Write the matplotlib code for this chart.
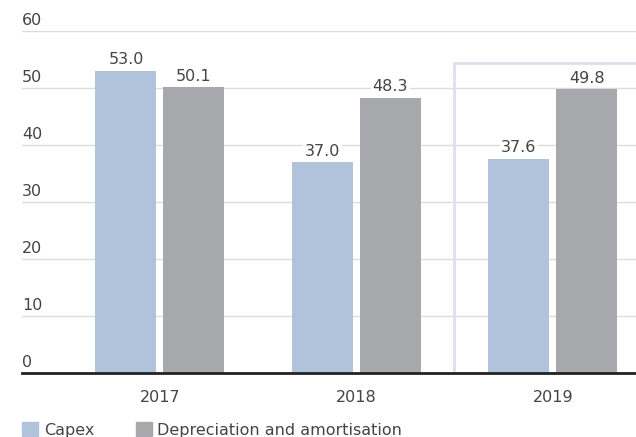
import matplotlib.pyplot as plt
from matplotlib.patches import Rectangle, Patch
import numpy as np

years = ['2017', '2018', '2019']
capex = [53.0, 37.0, 37.6]
dna = [50.1, 48.3, 49.8]
y_ticks = [0, 10, 20, 30, 40, 50, 60]

CAPEX_C = '#b1c2db'
DNA_C = '#a7a8ab'
TEXT_C = '#444444'
FS = 11.5

fig = plt.figure(figsize=(6.36, 4.37), dpi=100)
ax = fig.add_axes([22 / 636, 1 - 373 / 437, 614 / 636, (373 - 31) / 437])

x = np.arange(len(years))
w = 0.31
off = 0.173
b1 = ax.bar(x - off, capex, w, color=CAPEX_C, zorder=3)
b2 = ax.bar(x + off, dna, w, color=DNA_C, zorder=3)

# value labels on a white patch so gridlines break behind them
for bars, vals in ((b1, capex), (b2, dna)):
    for b, v in zip(bars, vals):
        ax.annotate(f'{v:.1f}', (b.get_x() + b.get_width() / 2, v),
                    xytext=(0, 2.5), textcoords='offset points',
                    ha='center', va='bottom', fontsize=FS, color=TEXT_C,
                    bbox=dict(facecolor='white', edgecolor='none', pad=1.0),
                    zorder=2)

ax.set_xlim(-0.702, 2.423)
ax.set_ylim(0, 60)

# gridlines with labels sitting above them
for t in y_ticks:
    if t > 0:
        ax.axhline(t, color='#dcdcdc', linewidth=1, zorder=1)
    ax.text(0.0, t + 0.6, str(t), transform=ax.get_yaxis_transform(),
            ha='left', va='bottom', fontsize=FS, color=TEXT_C)

# highlight frame around 2019
ax.add_patch(Rectangle((1.497, 0), 1.5, 54.4, fill=False,
                       edgecolor='#dde0ed', linewidth=2, zorder=1,
                       clip_on=True))

ax.axhline(0, color='#222222', linewidth=2, zorder=4, clip_on=False)

for s in ax.spines.values():
    s.set_visible(False)
ax.set_yticks([])
ax.set_xticks(x)
ax.set_xticklabels(years, fontsize=FS, color=TEXT_C)
ax.tick_params(axis='x', length=0, pad=12)

handles = [Patch(color=CAPEX_C, label='Capex'),
           Patch(color=DNA_C, label='Depreciation and amortisation')]
fig.legend(handles=handles, loc='center left',
           bbox_to_anchor=(8 / 636, 1 - 430 / 437), ncol=2, frameon=False,
           fontsize=FS, labelcolor=TEXT_C, handlelength=1.0,
           handleheight=1.0, handletextpad=0.35, columnspacing=2.6)

fig.savefig('out.png', dpi=100)
